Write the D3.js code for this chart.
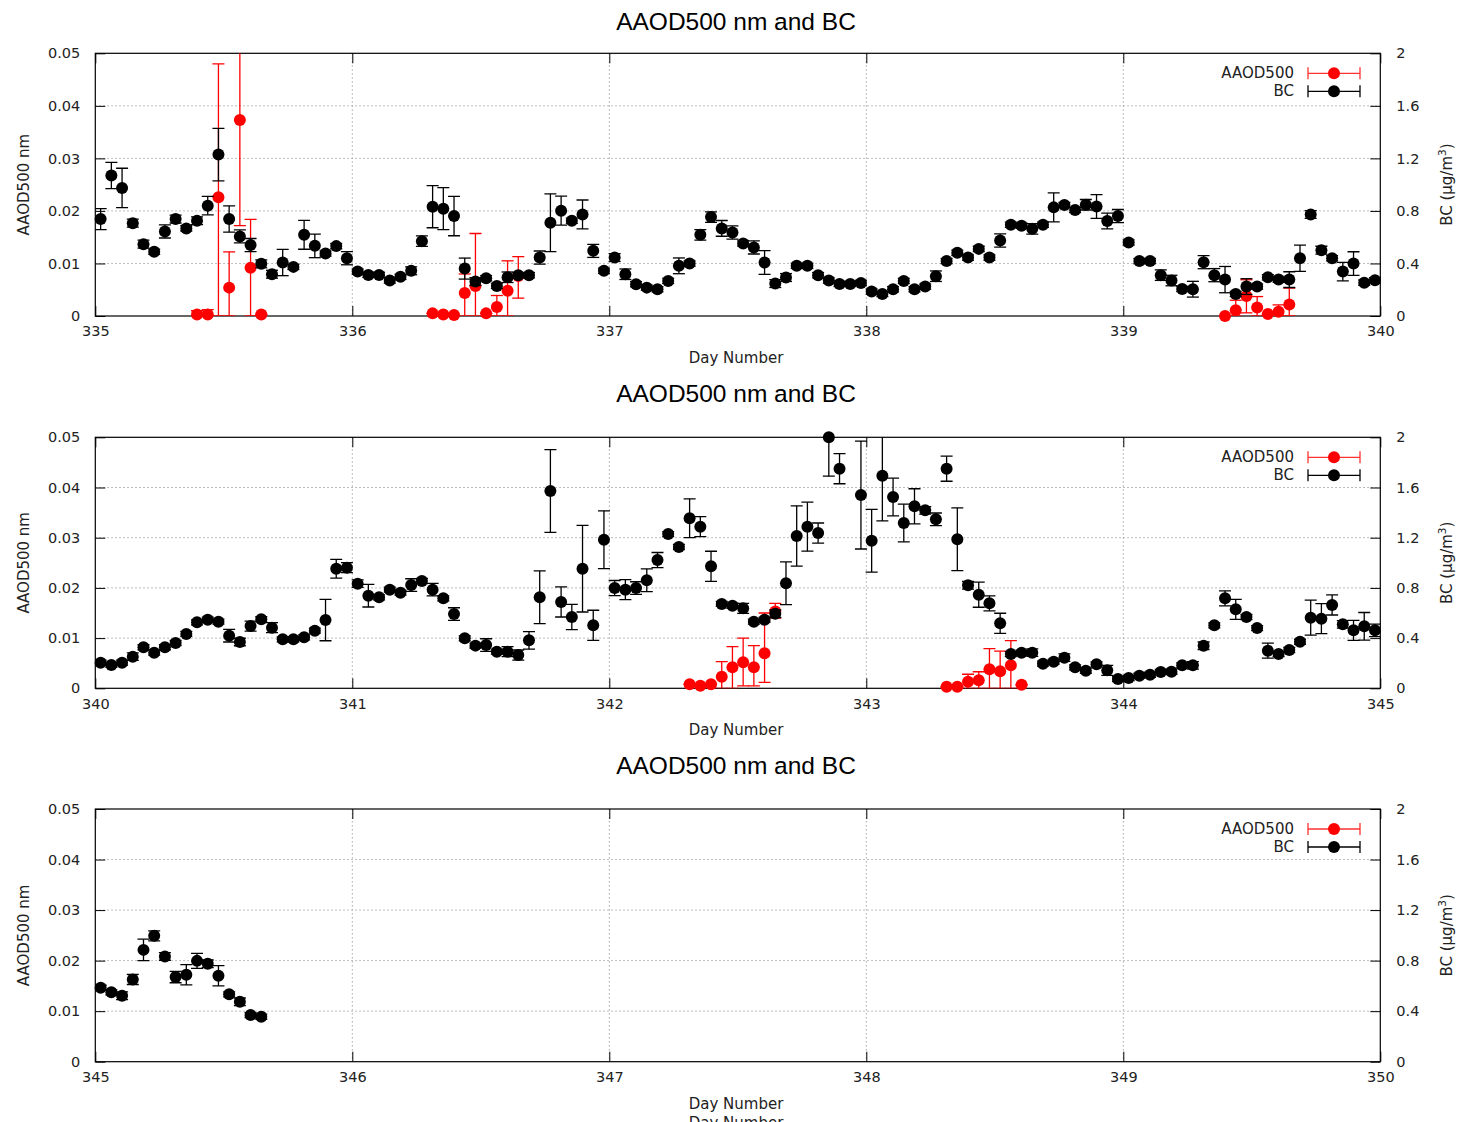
<!DOCTYPE html>
<html><head><meta charset="utf-8">
<script src="https://cdn.jsdelivr.net/npm/d3@7"></script>
<style>body{margin:0;background:#fff} svg{display:block}</style>
</head><body><svg id="c" width="1460" height="1122"></svg>
<script>
// ---------- DATA (hourly, index = hour after panel start day) ----------
const dayTicks335 = [335, 336, 337, 338, 339, 340];
const dayTicks340 = [340, 341, 342, 343, 344, 345];
const dayTicks345 = [345, 346, 347, 348, 349, 350];
const aodTicks = [0, 0.01, 0.02, 0.03, 0.04, 0.05];
const bcTicks = [0, 0.4, 0.8, 1.2, 1.6, 2];

const bc335 = [0.738,1.069,0.975,0.707,0.547,0.489,0.644,0.738,0.667,0.725,0.840,1.229,0.738,0.606,0.540,0.397,0.318,0.407,0.374,0.618,
0.534,0.476,0.532,0.440,0.338,0.313,0.313,0.270,0.298,0.344,0.570,0.832,0.817,0.761,0.361,0.262,0.288,0.229,0.295,0.311,
0.311,0.445,0.710,0.802,0.725,0.773,0.496,0.344,0.445,0.318,0.242,0.216,0.204,0.267,0.382,0.399,0.618,0.753,0.667,0.636,
0.552,0.522,0.407,0.247,0.293,0.382,0.382,0.311,0.270,0.244,0.244,0.252,0.186,0.168,0.204,0.267,0.204,0.224,0.303,0.418,
0.481,0.445,0.511,0.445,0.575,0.695,0.687,0.664,0.695,0.827,0.845,0.807,0.847,0.834,0.723,0.761,0.560,0.418,0.418,0.311,
0.270,0.206,0.204,0.410,0.311,0.277,0.168,0.224,0.224,0.295,0.277,0.277,0.440,0.773,0.501,0.440,0.338,0.399,0.254,0.272];
const bcErr335 = [0.08,0.10,0.15,0.03,0.03,0.02,0.05,0.03,0.02,0.03,0.07,0.20,0.10,0.05,0.05,0.03,0.03,0.10,0.02,0.11,
0.09,0.02,0.02,0.05,0.02,0.02,0.02,0.02,0.02,0.03,0.04,0.16,0.16,0.15,0.08,0.03,0.02,0.02,0.04,0.02,
0.02,0.05,0.22,0.11,0.02,0.11,0.05,0.02,0.03,0.04,0.02,0.02,0.02,0.02,0.06,0.02,0.04,0.04,0.06,0.05,
0.02,0.05,0.09,0.03,0.03,0.02,0.02,0.02,0.02,0.02,0.02,0.02,0.02,0.02,0.02,0.02,0.02,0.02,0.04,0.02,
0.02,0.02,0.02,0.02,0.05,0.02,0.02,0.04,0.02,0.11,0.02,0.02,0.04,0.09,0.06,0.05,0.02,0.02,0.02,0.04,
0.04,0.02,0.06,0.05,0.05,0.10,0.02,0.06,0.02,0.02,0.02,0.06,0.10,0.03,0.03,0.02,0.07,0.09,0.02,0.02];

const bc340 = [0.204,0.186,0.204,0.252,0.327,0.284,0.327,0.361,0.433,0.526,0.547,0.531,0.419,0.369,0.496,0.550,0.483,0.390,0.390,0.406,
0.459,0.544,0.953,0.961,0.834,0.738,0.725,0.786,0.762,0.823,0.855,0.786,0.717,0.592,0.398,0.340,0.345,0.292,0.292,0.265,
0.382,0.725,1.572,0.688,0.568,0.953,0.502,1.184,0.799,0.786,0.799,0.861,1.022,1.229,1.126,1.355,1.288,0.972,0.672,0.658,
0.637,0.531,0.547,0.594,0.837,1.214,1.288,1.237,2.000,1.750,null,1.540,1.176,1.694,1.524,1.317,1.450,1.418,1.347,1.750,
1.187,0.821,0.746,0.677,0.518,0.273,0.284,0.284,0.196,0.212,0.244,0.167,0.140,0.191,0.143,0.074,0.082,0.100,0.108,0.130,
0.132,0.183,0.183,0.339,0.502,0.717,0.629,0.568,0.480,0.300,0.273,0.305,0.371,0.563,0.555,0.664,0.510,0.462,0.494,0.462];
const bcErr340 = [0.02,0.02,0.02,0.03,0.02,0.02,0.02,0.02,0.02,0.02,0.02,0.02,0.05,0.03,0.04,0.02,0.04,0.02,0.02,0.02,
0.02,0.165,0.075,0.04,0.03,0.09,0.02,0.02,0.02,0.05,0.02,0.05,0.02,0.05,0.02,0.02,0.05,0.02,0.04,0.04,
0.07,0.21,0.33,0.12,0.10,0.345,0.12,0.23,0.06,0.08,0.05,0.09,0.06,0.02,0.02,0.155,0.08,0.12,0.02,0.02,
0.04,0.02,0.02,0.03,0.17,0.24,0.195,0.08,0.31,0.12,null,0.43,0.25,0.36,0.15,0.15,0.14,0.03,0.05,0.10,
0.25,0.03,0.10,0.06,0.08,0.02,0.02,0.03,0.02,0.02,0.03,0.02,0.02,0.02,0.04,0.02,0.02,0.02,0.02,0.02,
0.02,0.02,0.03,0.03,0.02,0.06,0.08,0.02,0.02,0.06,0.02,0.02,0.02,0.14,0.12,0.08,0.03,0.08,0.11,0.05];

const bc345 = [0.585,0.549,0.522,0.651,0.885,0.996,0.833,0.670,0.688,0.798,0.775,0.680,0.533,0.474,0.369,0.356];
const bcErr345 = [0.02,0.02,0.03,0.04,0.085,0.04,0.03,0.045,0.08,0.06,0.03,0.08,0.02,0.03,0.02,0.02];

const aodHours335 = [9,10,11,12,13,14,15,31,32,33,34,35,36,37,38,39,105,106,107,108,109,110,111];
const aod335   = [0.0003,0.0003,0.0226,0.0054,0.0373,0.0092,0.0003,0.0005,0.0003,0.0002,0.0044,0.0057,0.0005,0.0017,0.0048,0.0076,0.0000,0.0011,0.0038,0.0016,0.0004,0.0008,0.0022];
const aodLo335 = [0,0,0,0,0.0172,0,0.0003,0.0005,0.0003,0.0002,0,0,0.0005,0,0,0.0034,0,0,0.0006,0,0.0004,0,0];
const aodHi335 = [0.0010,0.0012,0.0480,0.0122,0.0650,0.0184,0.0003,0.0005,0.0003,0.0002,0.0080,0.0157,0.0005,0.0039,0.0105,0.0113,0,0.0030,0.0069,0.0037,0.0004,0.0021,0.0053];

const aodHours340 = [55,56,57,58,59,60,61,62,63,79,80,81,82,83,84,85,86];
const aod340   = [0.0008,0.0005,0.0008,0.0023,0.0042,0.0052,0.0042,0.0070,0.0153,0.0003,0.0003,0.0013,0.0016,0.0038,0.0034,0.0046,0.0007];
const aodLo340 = [0.0008,0.0005,0.0008,0,0,0.0005,0.0005,0.0012,0.0140,0.0003,0.0003,0,0,0,0,0,0.0007];
const aodHi340 = [0.0008,0.0005,0.0008,0.0053,0.0083,0.0100,0.0085,0.0150,0.0169,0.0003,0.0003,0.0028,0.0033,0.0079,0.0074,0.0095,0.0007];

const aodHours345 = [], aod345 = [], aodLo345 = [], aodHi345 = [];

const titleText = "AAOD500 nm and BC";
const legendLabels = ["AAOD500", "BC"];

// ---------- LAYOUT ----------
const panels = [
  {ticks: dayTicks335, bc: bc335, bcErr: bcErr335, aH: aodHours335, a: aod335, aLo: aodLo335, aHi: aodHi335, top: 53.3, bottom: 316, titleY: 29.5},
  {ticks: dayTicks340, bc: bc340, bcErr: bcErr340, aH: aodHours340, a: aod340, aLo: aodLo340, aHi: aodHi340, top: 437.3, bottom: 688.3, titleY: 401.7},
  {ticks: dayTicks345, bc: bc345, bcErr: bcErr345, aH: aodHours345, a: aod345, aLo: aodLo345, aHi: aodHi345, top: 809, bottom: 1061.7, titleY: 773.7}
];
const L = 95.3, R = 1380.3;
const FONT = "'DejaVu Sans', sans-serif";
const TICK_FS = 14.5, LABEL_FS = 15;
const svg = d3.select('#c');
const CAP = 6, RAD = 6;

function errBar(g, cx, y1, y2, color) {
  g.append('line').attr('x1', cx).attr('x2', cx).attr('y1', y1).attr('y2', y2).attr('stroke', color).attr('stroke-width', 1.3);
  [y1, y2].forEach(yy => g.append('line').attr('x1', cx - CAP).attr('x2', cx + CAP).attr('y1', yy).attr('y2', yy).attr('stroke', color).attr('stroke-width', 1.3));
}

panels.forEach((p, pi) => {
  const g = svg.append('g');
  const x = d3.scaleLinear().domain([p.ticks[0], p.ticks[p.ticks.length - 1]]).range([L, R]);
  const yL = d3.scaleLinear().domain([0, 0.05]).range([p.bottom, p.top]);
  const yR = d3.scaleLinear().domain([0, 2]).range([p.bottom, p.top]);
  const hx = h => x(p.ticks[0] + (h + 0.5) / 24);

  const clipId = 'clip' + pi;
  svg.append('clipPath').attr('id', clipId).append('rect')
    .attr('x', L).attr('y', p.top).attr('width', R - L).attr('height', p.bottom - p.top);

  // grid
  const grid = g.append('g').attr('stroke', '#a8a8a8').attr('stroke-width', 1).attr('stroke-dasharray', '1.5,2.5');
  aodTicks.slice(1, -1).forEach(t => grid.append('line').attr('x1', L).attr('x2', R).attr('y1', yL(t)).attr('y2', yL(t)));
  p.ticks.slice(1, -1).forEach(t => grid.append('line').attr('x1', x(t)).attr('x2', x(t)).attr('y1', p.top).attr('y2', p.bottom));

  // axes
  const fmtL = d => d === 0 ? '0' : d3.format('.2f')(d);
  const fmtR = d => String(+d.toFixed(1));
  const axL = g.append('g').attr('transform', `translate(${L},0)`)
    .call(d3.axisLeft(yL).tickValues(aodTicks).tickFormat(fmtL).tickSizeInner(-10).tickSizeOuter(0).tickPadding(15));
  const axR = g.append('g').attr('transform', `translate(${R},0)`)
    .call(d3.axisRight(yR).tickValues(bcTicks).tickFormat(fmtR).tickSizeInner(-10).tickSizeOuter(0).tickPadding(16));
  const axB = g.append('g').attr('transform', `translate(0,${p.bottom})`)
    .call(d3.axisBottom(x).tickValues(p.ticks).tickFormat(d3.format('d')).tickSizeInner(-10).tickSizeOuter(0).tickPadding(10));
  const axT = g.append('g').attr('transform', `translate(0,${p.top})`)
    .call(d3.axisTop(x).tickValues(p.ticks).tickFormat('').tickSizeInner(-10).tickSizeOuter(0));
  [axL, axR, axB, axT].forEach(a => {
    a.select('.domain').remove();
    a.selectAll('line').attr('stroke', '#000').attr('stroke-width', 1);
    a.selectAll('text').attr('font-family', FONT).attr('font-size', TICK_FS).attr('fill', '#222');
  });

  // border
  g.append('rect').attr('x', L).attr('y', p.top).attr('width', R - L).attr('height', p.bottom - p.top)
    .attr('fill', 'none').attr('stroke', '#000').attr('stroke-width', 1.2);

  // title
  g.append('text').attr('x', 736).attr('y', p.titleY).attr('text-anchor', 'middle')
    .attr('font-family', "'Liberation Sans', Arial, sans-serif").attr('font-size', 24.5).attr('fill', '#000').text(titleText);

  // axis labels
  const cy = (p.top + p.bottom) / 2;
  g.append('text').attr('transform', `translate(28.5,${cy}) rotate(-90)`).attr('text-anchor', 'middle')
    .attr('font-family', FONT).attr('font-size', LABEL_FS).attr('fill', '#222').text('AAOD500 nm');
  const rl = g.append('text').attr('transform', `translate(1452,${cy}) rotate(-90)`).attr('text-anchor', 'middle')
    .attr('font-family', FONT).attr('font-size', LABEL_FS).attr('fill', '#222');
  rl.append('tspan').text('BC (μg/m');
  rl.append('tspan').attr('dy', -6).attr('font-size', 10.5).text('3');
  rl.append('tspan').attr('dy', 6).text(')');
  g.append('text').attr('x', 736).attr('y', p.bottom + 47).attr('text-anchor', 'middle')
    .attr('font-family', FONT).attr('font-size', LABEL_FS).attr('fill', '#222').text('Day Number');
  if (pi === panels.length - 1) {
    // the reference shows a second, partly cut-off copy of the x label at the very bottom
    g.append('text').attr('x', 736).attr('y', p.bottom + 66).attr('text-anchor', 'middle')
      .attr('font-family', FONT).attr('font-size', LABEL_FS).attr('fill', '#222').text('Day Number');
  }

  // AAOD500 (red)
  const eb = g.append('g').attr('clip-path', `url(#${clipId})`);
  p.aH.forEach((h, i) => errBar(eb, hx(h), yL(p.aLo[i]), yL(p.aHi[i]), '#ff0000'));
  p.aH.forEach((h, i) => g.append('circle').attr('cx', hx(h)).attr('cy', yL(p.a[i])).attr('r', RAD).attr('fill', '#ff0000'));

  // BC (black)
  const eb2 = g.append('g').attr('clip-path', `url(#${clipId})`);
  p.bc.forEach((v, i) => { if (v == null) return; errBar(eb2, hx(i), yR(v - p.bcErr[i]), yR(v + p.bcErr[i]), '#000'); });
  p.bc.forEach((v, i) => { if (v == null) return; g.append('circle').attr('cx', hx(i)).attr('cy', yR(v)).attr('r', RAD).attr('fill', '#000'); });

  // legend
  ['#ff3030', '#000'].forEach((c, k) => {
    const ly = p.top + 20 + k * 18;
    g.append('text').attr('x', 1294).attr('y', ly + 5).attr('text-anchor', 'end')
      .attr('font-family', FONT).attr('font-size', LABEL_FS).attr('fill', '#222').text(legendLabels[k]);
    g.append('line').attr('x1', 1308).attr('x2', 1360).attr('y1', ly).attr('y2', ly).attr('stroke', c).attr('stroke-width', 1.3);
    [1308, 1360].forEach(xx => g.append('line').attr('x1', xx).attr('x2', xx).attr('y1', ly - 6).attr('y2', ly + 6).attr('stroke', c).attr('stroke-width', 1.3));
    g.append('circle').attr('cx', 1334).attr('cy', ly).attr('r', RAD).attr('fill', k === 0 ? '#ff0000' : '#000');
  });
});
</script></body></html>
